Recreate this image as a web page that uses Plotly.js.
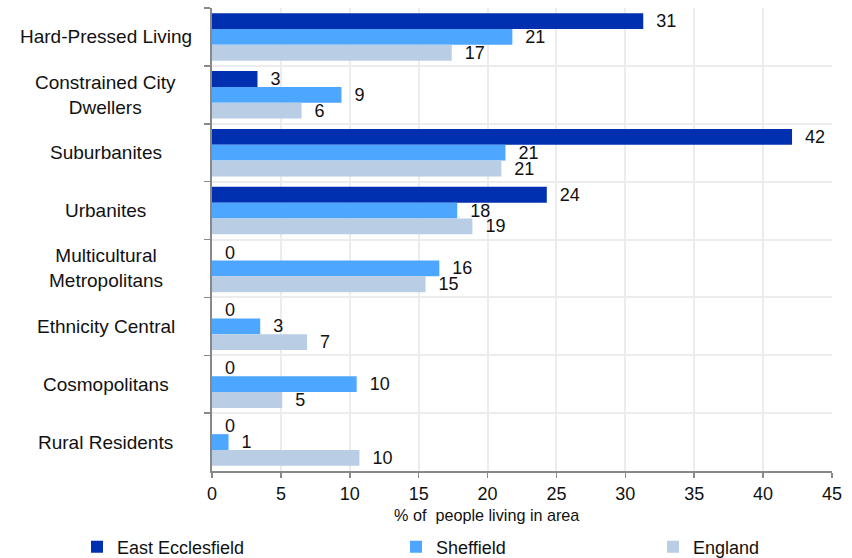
<!DOCTYPE html>
<html><head><meta charset="utf-8">
<script src="https://cdn.plot.ly/plotly-3.0.1.min.js"></script>
<style>html,body{margin:0;padding:0;background:#fff}#chart{width:852px;height:558px}</style>
</head><body><div id="chart"></div>
<script>
const categories = ["Hard-Pressed Living","Constrained City<br>Dwellers","Suburbanites","Urbanites","Multicultural<br>Metropolitans","Ethnicity Central","Cosmopolitans","Rural Residents"];
const eastEcclesfield = [31.3, 3.3, 42.1, 24.3, 0, 0, 0, 0];
const sheffield = [21.8, 9.4, 21.3, 17.8, 16.5, 3.5, 10.5, 1.2];
const england = [17.4, 6.5, 21.0, 18.9, 15.5, 6.9, 5.1, 10.7];
const labelsEE = ["31","3","42","24","0","0","0","0"];
const labelsSh = ["21","9","21","18","16","3","10","1"];
const labelsEng = ["17","6","21","19","15","7","5","10"];
const xTicks = [0,5,10,15,20,25,30,35,40,45];
const xTitle = '% of  people living in area';

const FONT = "Liberation Sans, Arial, sans-serif";
function tr(name, vals, labels, color, legend){
  return {type:'bar', orientation:'h', name:name, y:categories, x:vals,
    text:labels, texttemplate:'\u00a0\u00a0%{text}', textposition:'outside',
    textfont:{family:FONT,size:18,color:'#111'}, constraintext:'none', cliponaxis:false,
    marker:{color:color}, legend:legend, hoverinfo:'skip'};
}
const data = [
  tr('East Ecclesfield', eastEcclesfield, labelsEE, '#0030B0', 'legend'),
  tr('Sheffield', sheffield, labelsSh, '#4DA6FF', 'legend2'),
  tr('England', england, labelsEng, '#B9CDE5', 'legend3')
];
const legendBase = {orientation:'h', xref:'container', yref:'container', yanchor:'middle', y:(558-547)/558, xanchor:'left',
  font:{family:FONT,size:18,color:'#111'}, bgcolor:'rgba(0,0,0,0)', itemwidth:30, tracegroupgap:0};
const annotations = categories.map(c => ({xref:'paper', yref:'y', x:-0.171, y:c, text:c,
  xanchor:'center', yanchor:'middle', align:'center', showarrow:false,
  font:{family:FONT,size:19,color:'#111'}}));
annotations.push({xref:'paper', yref:'paper', x:(486-212)/620, y:-(515-471)/463, text:xTitle,
  xanchor:'center', yanchor:'middle', showarrow:false, font:{family:FONT,size:16.2,color:'#111'}});
const layout = {
  width:852, height:558, margin:{l:212, r:20, t:8, b:87},
  paper_bgcolor:'#fff', plot_bgcolor:'#fff',
  barmode:'group', bargap:0.18, bargroupgap:0,
  showlegend:true,
  legend:Object.assign({}, legendBase, {x:77/852}),
  legend2:Object.assign({}, legendBase, {x:396/852}),
  legend3:Object.assign({}, legendBase, {x:653/852}),
  xaxis:{range:[0,45], tickvals:xTicks, ticktext:xTicks.map(String), showgrid:true, gridcolor:'#ececec', gridwidth:2,
    zeroline:false, showline:true, linecolor:'#888', linewidth:2, ticks:'outside', ticklen:5, tickcolor:'#888', tickwidth:1.5,
    tickfont:{family:FONT,size:18,color:'#111'}, automargin:false},
  yaxis:{autorange:'reversed', type:'category', showticklabels:false, tickson:'boundaries', ticks:'outside', ticklen:6,
    tickcolor:'#888', tickwidth:1.5, showgrid:true, gridcolor:'#ececec', gridwidth:2, showline:true, linecolor:'#888', linewidth:2, zeroline:false},
  annotations:annotations
};
Plotly.newPlot('chart', data, layout, {displayModeBar:false, staticPlot:true});
</script></body></html>
